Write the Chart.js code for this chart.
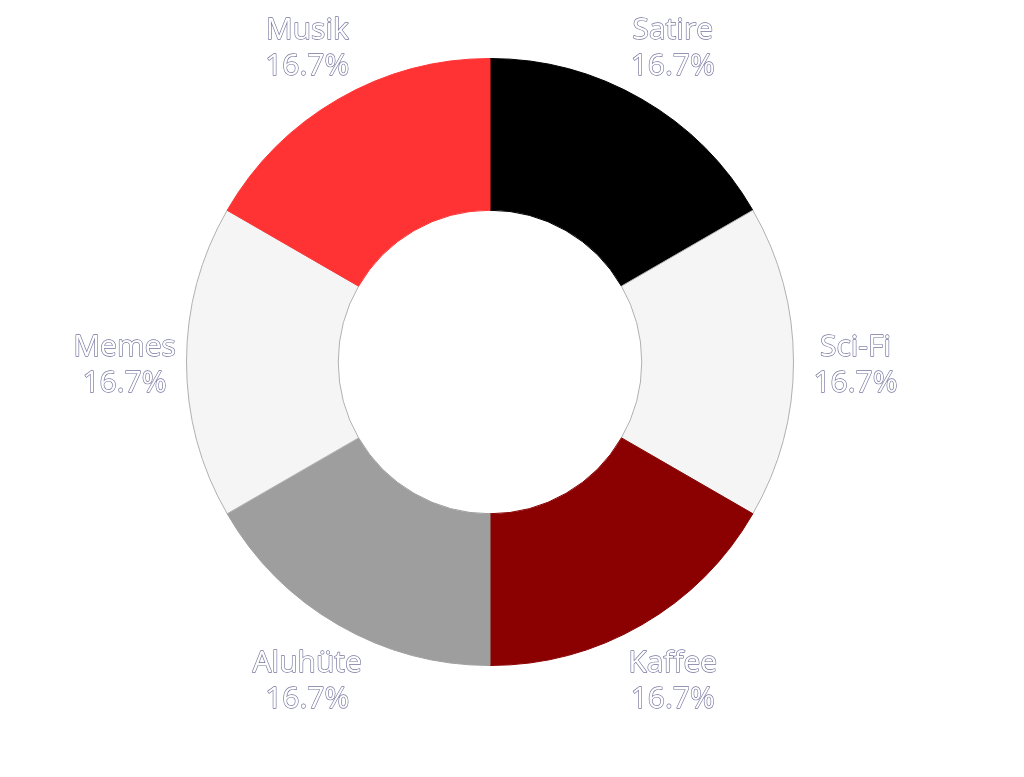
<!DOCTYPE html>
<html lang="de">
<head>
<meta charset="UTF-8">
<title>Doughnut</title>
<script src="https://cdn.jsdelivr.net/npm/chart.js"></script>
<style>
  html, body { margin: 0; padding: 0; background: #fff; }
  #wrap { width: 1024px; height: 777px; }
</style>
</head>
<body>
<div id="wrap"><canvas id="chart"></canvas></div>
<script>
const labels = ['Satire', 'Sci-Fi', 'Kaffee', 'Aluhüte', 'Memes', 'Musik'];
const values = [1, 1, 1, 1, 1, 1];
const colors = ['#000000', '#f5f5f5', '#8b0000', '#9e9e9e', '#f5f5f5', '#ff3333'];
const borders = ['#000000', '#b0b0b0', '#8b0000', '#9e9e9e', '#b0b0b0', '#ff3333'];

// draw name + percentage outside each slice
const outerLabels = {
  id: 'outerLabels',
  afterDraw(chart) {
    const ctx = chart.ctx;
    const meta = chart.getDatasetMeta(0);
    const total = values.reduce((a, b) => a + b, 0);
    ctx.save();
    ctx.font = '400 30px "Open Sans"';
    ctx.textAlign = 'center';
    ctx.textBaseline = 'middle';
    ctx.lineJoin = 'round';
    meta.data.forEach((arc, i) => {
      const p = arc.getProps(['x', 'y', 'startAngle', 'endAngle', 'outerRadius'], true);
      const mid = (p.startAngle + p.endAngle) / 2;
      const r = p.outerRadius + 62;
      const x = p.x + Math.cos(mid) * r;
      const y = p.y + Math.sin(mid) * r + 3;
      const pct = (values[i] / total * 100).toFixed(1) + '%';
      [[labels[i], y - 18], [pct, y + 18]].forEach(([t, ty]) => {
        ctx.strokeStyle = 'rgba(90,90,140,0.85)';
        ctx.lineWidth = 1.3;
        ctx.strokeText(t, x, ty);
        ctx.fillStyle = '#ffffff';
        ctx.fillText(t, x, ty);
      });
    });
    ctx.restore();
  }
};

new Chart(document.getElementById('chart'), {
  type: 'doughnut',
  data: {
    labels: labels,
    datasets: [{
      data: values,
      backgroundColor: colors,
      borderColor: borders,
      borderWidth: 1
    }]
  },
  options: {
    responsive: true,
    maintainAspectRatio: false,
    animation: false,
    cutout: '50%',
    layout: { padding: { top: 58, bottom: 111, left: 0, right: 44 } },
    plugins: {
      legend: { display: false },
      tooltip: { enabled: false }
    }
  },
  plugins: [outerLabels]
});
</script>
</body>
</html>
